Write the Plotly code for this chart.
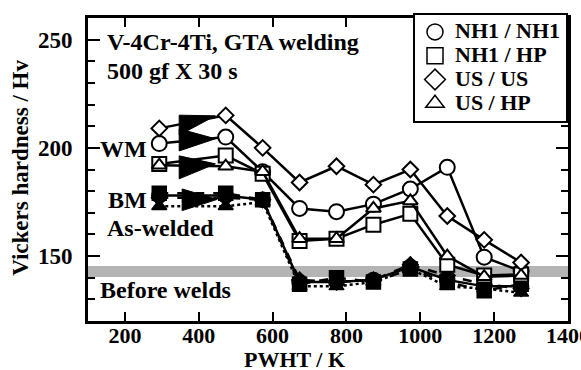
import plotly.graph_objects as go

# ---------------- data ----------------
PWHT_K = [293, 473, 573, 673, 773, 873, 973, 1073, 1173, 1273]

# weld metal (WM), open symbols
WM_NH1_NH1 = [202, 205, 189, 172, 170.5, 174, 181, 191, 149.5, 143]
WM_NH1_HP = [192.5, 196.5, 188, 157, 158, 164.5, 169.5, 146, 141, 141.5]
WM_US_US = [209, 215, 200, 184, 191.5, 183, 190, 168.5, 157.5, 147]
WM_US_HP = [192, 191.5, 189, 158, 158, 172, 175.5, 150, 140.5, 141]

# base metal (BM), filled symbols
BM_NH1_NH1 = [178, 178, 176, 138, 138, 139, 145, 139, 136, 136]
BM_NH1_HP = [179, 179, 176, 137, 140, 138, 144, 138, 134, 137]
BM_US_US = [177, 177, 176, 139, 138, 139, 146, 141, 137, 135]
BM_US_HP = [173, 173, 175, 136, 136, 138, 144, 136, 135, 133]

SERIES_NAMES = ["NH1 / NH1", "NH1 / HP", "US / US", "US / HP"]

# as-welded -> PWHT arrows (tail x, tip x, base centre y, tip y, half height)
ARROW_TAIL_X = [347, 347, 347, 355]
ARROW_TIP_X = [445, 445, 445, 450]
ARROW_BASE_Y = [210.5, 203.7, 191, 176]
ARROW_TIP_Y = [214.8, 204.2, 192.6, 176.2]
ARROW_HALF = [4.6, 5.1, 5.3, 5.0]

# hardness before welding (grey band)
BEFORE_LOW = 140.3
BEFORE_HIGH = 145.4

X_RANGE = [100, 1400]
Y_RANGE = [120, 260]

FONT = "Liberation Serif"

fig = go.Figure()

# grey band
fig.add_shape(type="rect", xref="paper", x0=0, x1=1, yref="y",
              y0=BEFORE_LOW, y1=BEFORE_HIGH, fillcolor="#b4b4b4",
              line=dict(width=0), layer="below")

symbols = ["circle", "square", "diamond", "triangle-up"]
sizes = [15, 14, 12, 13]

# filled BM series
bm = [BM_NH1_NH1, BM_NH1_HP, BM_US_US, BM_US_HP]
dashes = ["solid", "dash", "dash", "dot"]
for ys, sym, sz, dsh, nm in zip(bm, symbols, sizes, dashes, SERIES_NAMES):
    fig.add_trace(go.Scatter(
        x=PWHT_K, y=ys, mode="lines+markers", name=nm + " (BM)",
        showlegend=False,
        line=dict(color="black", width=2.5, dash=dsh),
        marker=dict(symbol=sym, size=sz, color="black",
                    line=dict(color="black", width=1.5))))

# open WM series
wm = [WM_NH1_NH1, WM_NH1_HP, WM_US_US, WM_US_HP]
for ys, sym, sz, nm in zip(wm, symbols, sizes, SERIES_NAMES):
    fig.add_trace(go.Scatter(
        x=PWHT_K, y=ys, mode="lines+markers", name=nm,
        showlegend=False,
        line=dict(color="black", width=2.5),
        marker=dict(symbol=sym, size=sz, color="white",
                    line=dict(color="black", width=2))))

# arrows
for tx, px_, by, ty, h in zip(ARROW_TAIL_X, ARROW_TIP_X, ARROW_BASE_Y,
                              ARROW_TIP_Y, ARROW_HALF):
    fig.add_trace(go.Scatter(
        x=[tx, px_, tx, tx], y=[by + h, ty, by - h, by + h],
        mode="lines", fill="toself", fillcolor="black",
        line=dict(color="black", width=1), showlegend=False,
        hoverinfo="skip"))

# legend entries
for sym, nm in zip(symbols, SERIES_NAMES):
    fig.add_trace(go.Scatter(
        x=[None], y=[None], mode="markers",
        name='<span style="font-size:22px">' + nm + "</span>",
        marker=dict(symbol=sym, size=16, color="white",
                    line=dict(color="black", width=1.5))))

font_ann = dict(family=FONT, size=24, color="black", weight="bold")
font_title = dict(family=FONT, size=23, color="black", weight="bold")

texts = [
    ("V-4Cr-4Ti, GTA welding", 0.036, 0.921),
    ("500 gf X 30 s", 0.036, 0.825),
    ("WM", 0.020, 0.568),
    ("BM", 0.038, 0.399),
    ("As-welded", 0.036, 0.307),
    ("Before welds", 0.020, 0.102),
]
annotations = [dict(text=t, x=x, y=y, xref="paper", yref="paper",
                    xanchor="left", yanchor="middle", showarrow=False,
                    font=font_ann) for t, x, y in texts]
annotations.append(dict(text="PWHT / K", x=0.431, y=-0.126, xref="paper",
                        yref="paper", xanchor="center", yanchor="middle",
                        showarrow=False, borderpad=0,
                        font=dict(family=FONT, size=22, color="black",
                                  weight="bold")))
annotations.append(dict(text="Vickers hardness / Hv", x=-0.14, y=0.505,
                        xref="paper", yref="paper", xanchor="center",
                        yanchor="middle", textangle=-90, showarrow=False,
                        font=font_title))

axis_common = dict(showline=True, linecolor="black", linewidth=3,
                   mirror="allticks", ticks="inside", tickcolor="black",
                   tickwidth=2, showgrid=False, zeroline=False)

fig.update_layout(
    width=581, height=370,
    margin=dict(l=88, r=13, t=18, b=49, autoexpand=False),
    paper_bgcolor="white", plot_bgcolor="white",
    font=dict(family=FONT, color="black"),
    showlegend=True,
    legend=dict(x=(413 - 88) / 480, y=1 + 5 / 303,
                xanchor="left", yanchor="top",
                bgcolor="white", bordercolor="black", borderwidth=2,
                font=dict(family=FONT, size=16, color="black", weight="bold"),
                itemwidth=30, tracegroupgap=0),
    annotations=annotations,
    xaxis=dict(range=X_RANGE, dtick=200, tick0=0, ticklen=9,
               ticklabeloverflow="allow", tickangle=0,
               ticklabelstandoff=-7,
               tickfont=dict(family=FONT, size=22, color="black",
                             weight="bold"),
               **axis_common),
    yaxis=dict(range=Y_RANGE, dtick=50, tick0=0, ticklen=12,
               ticklabelstandoff=8,
               tickfont=dict(family=FONT, size=23, color="black",
                             weight="bold"),
               minor=dict(dtick=10, ticks="inside", ticklen=7,
                          tickwidth=2, tickcolor="black"),
               **axis_common),
)

fig.write_html("out.html",
               config={"displayModeBar": False, "staticPlot": True},
               post_script="document.body.style.margin='0';"
                           "document.body.style.overflow='hidden';")
